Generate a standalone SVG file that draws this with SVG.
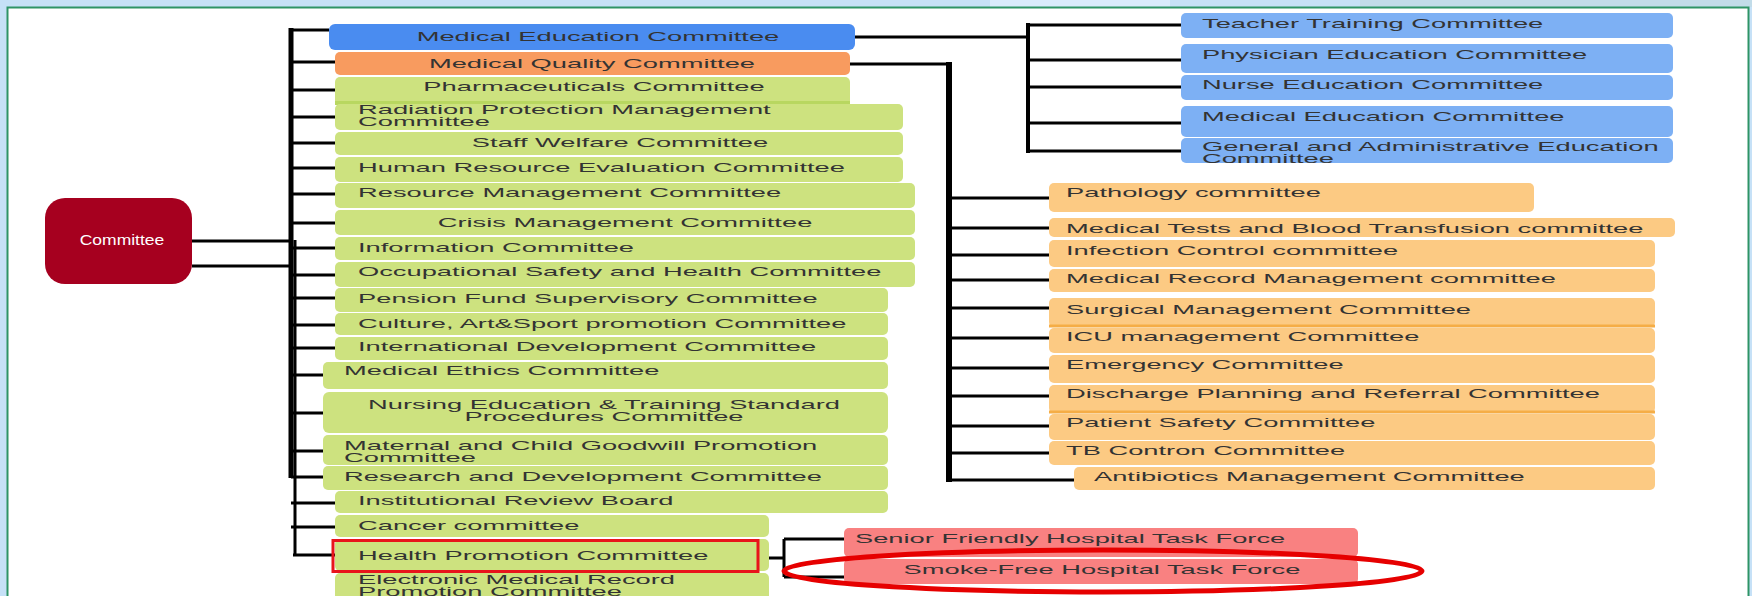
<svg xmlns="http://www.w3.org/2000/svg" width="1752" height="596" viewBox="0 0 1752 596">
<style>
.g{fill:#cde27f}
.b{fill:#7db0f4}
.o{fill:#fcca83}
.r{fill:#f98181}
.t{font-family:"Liberation Sans",Arial,sans-serif;font-size:13px;fill:#333}
.wt{font-family:"Liberation Sans",Arial,sans-serif;font-size:14px;fill:#fff}
.ln{stroke:#000;stroke-width:3;fill:none}
.sep{stroke:#f5ad46;stroke-width:3}
</style>
<rect x="0" y="0" width="1752" height="596" fill="#c6e1f7"/>
<rect x="990" y="0" width="180" height="7" fill="#d8ebfb"/>
<rect x="1360" y="0" width="392" height="7" fill="#c2dce9"/>
<rect x="7.5" y="7.5" width="1741" height="600" fill="#fff" stroke="#2e9466" stroke-width="2"/>

<g id="connectors">
<path class="ln" d="M192 241H291M192 266H291"/>
<path d="M291 28V478" stroke="#000" stroke-width="5"/>
<path class="ln" d="M295 240V556"/>
<path class="ln" d="M291 30H329M291 62H335M291 90H335M291 117H335M291 143H335M291 168H335M291 194H335M291 223H335M291 248H335M291 275H335M291 298H335M291 325H335M291 348H335M291 375H323M291 413H323M291 451H323M291 477H323M291 503H335M291 527H335M293 555H335"/>
<path class="ln" d="M855 37H1028M1028 25H1181M1028 60H1181M1028 87H1181M1028 123H1181M1028 151H1181"/>
<path d="M1028 23V153" stroke="#000" stroke-width="4"/>
<path class="ln" d="M850 64H952M949 198H1049M949 228H1049M949 255H1049M949 280H1049M949 308H1049M949 338H1049M949 368H1049M949 396H1049M949 426H1049M949 453H1049M949 480H1167"/>
<path d="M949 62V482" stroke="#000" stroke-width="6"/>
<path class="ln" d="M746 558H784M784 539V577M784 539H844M784 577H844"/>
</g>

<g id="committee">
<rect x="45" y="198" width="147" height="86" rx="20" fill="#a6001f"/>
<text class="wt" x="97.6" y="245.5" text-anchor="middle" transform="scale(1.25 1)">Committee</text>
</g>

<g id="n-medical-education">
<rect x="329" y="24" width="526" height="26" rx="6" fill="#4a8cf0"/>
<text class="t" x="284.76" y="41.5" text-anchor="middle" transform="scale(2.1 1)">Medical Education Committee</text>
</g>
<g id="n-medical-quality">
<rect x="335" y="52" width="515" height="23" rx="5" fill="#f89b5f"/>
<text class="t" x="281.90" y="68" text-anchor="middle" transform="scale(2.1 1)">Medical Quality Committee</text>
</g>
<g id="n-pharmaceuticals">
<rect class="g" x="335" y="77" width="515" height="29" rx="5"/>
<rect x="335" y="101" width="515" height="4" fill="#b8d760"/>
<text class="t" x="282.86" y="91.5" text-anchor="middle" transform="scale(2.1 1)">Pharmaceuticals Committee</text>
</g>
<g id="n-radiation">
<rect class="g" x="335" y="104" width="568" height="26" rx="5"/>
<text class="t" x="170.48" y="114.5" transform="scale(2.1 1)">Radiation Protection Management</text>
<text class="t" x="170.48" y="126.5" transform="scale(2.1 1)">Committee</text>
</g>
<g id="n-staff-welfare">
<rect class="g" x="335" y="132" width="568" height="23" rx="5"/>
<text class="t" x="295.24" y="147.5" text-anchor="middle" transform="scale(2.1 1)">Staff Welfare Committee</text>
</g>
<g id="n-hr-evaluation">
<rect class="g" x="335" y="157" width="568" height="25" rx="5"/>
<text class="t" x="170.48" y="172" transform="scale(2.1 1)">Human Resource Evaluation Committee</text>
</g>
<g id="n-resource-management">
<rect class="g" x="335" y="183" width="580" height="25" rx="5"/>
<text class="t" x="170.48" y="197" transform="scale(2.1 1)">Resource Management Committee</text>
</g>
<g id="n-crisis">
<rect class="g" x="335" y="210" width="580" height="25" rx="5"/>
<text class="t" x="297.62" y="227" text-anchor="middle" transform="scale(2.1 1)">Crisis Management Committee</text>
</g>
<g id="n-information">
<rect class="g" x="335" y="237" width="580" height="23" rx="5"/>
<text class="t" x="170.48" y="252" transform="scale(2.1 1)">Information Committee</text>
</g>
<g id="n-occupational">
<rect class="g" x="335" y="262" width="580" height="25" rx="5"/>
<text class="t" x="170.48" y="276.5" transform="scale(2.1 1)">Occupational Safety and Health Committee</text>
</g>
<g id="n-pension">
<rect class="g" x="335" y="288" width="553" height="24" rx="5"/>
<text class="t" x="170.48" y="303" transform="scale(2.1 1)">Pension Fund Supervisory Committee</text>
</g>
<g id="n-culture">
<rect class="g" x="335" y="313" width="553" height="22" rx="5"/>
<text class="t" x="170.48" y="328" transform="scale(2.1 1)">Culture, Art&amp;Sport promotion Committee</text>
</g>
<g id="n-international">
<rect class="g" x="335" y="337" width="553" height="23" rx="5"/>
<text class="t" x="170.48" y="351" transform="scale(2.1 1)">International Development Committee</text>
</g>
<g id="n-ethics">
<rect class="g" x="323" y="362" width="565" height="27" rx="5"/>
<text class="t" x="163.81" y="375.5" transform="scale(2.1 1)">Medical Ethics Committee</text>
</g>
<g id="n-nursing">
<rect class="g" x="323" y="392" width="565" height="41" rx="6"/>
<text class="t" x="287.62" y="409.5" text-anchor="middle" transform="scale(2.1 1)">Nursing Education &amp; Training Standard</text>
<text class="t" x="287.62" y="421.5" text-anchor="middle" transform="scale(2.1 1)">Procedures Committee</text>
</g>
<g id="n-maternal">
<rect class="g" x="323" y="435" width="565" height="30" rx="5"/>
<text class="t" x="163.81" y="450.5" transform="scale(2.1 1)">Maternal and Child Goodwill Promotion</text>
<text class="t" x="163.81" y="462" transform="scale(2.1 1)">Committee</text>
</g>
<g id="n-research">
<rect class="g" x="323" y="466" width="565" height="24" rx="5"/>
<text class="t" x="163.81" y="481" transform="scale(2.1 1)">Research and Development Committee</text>
</g>
<g id="n-irb">
<rect class="g" x="335" y="491" width="553" height="22" rx="5"/>
<text class="t" x="170.48" y="505.5" transform="scale(2.1 1)">Institutional Review Board</text>
</g>
<g id="n-cancer">
<rect class="g" x="335" y="515" width="434" height="22" rx="5"/>
<text class="t" x="170.48" y="530.5" transform="scale(2.1 1)">Cancer committee</text>
</g>
<g id="n-health-promotion">
<rect class="g" x="335" y="539" width="434" height="32" rx="5"/>
<rect x="333" y="540.5" width="425" height="31" fill="none" stroke="#e8141b" stroke-width="3"/>
<text class="t" x="170.48" y="560" transform="scale(2.1 1)">Health Promotion Committee</text>
</g>
<g id="n-emr">
<rect class="g" x="335" y="573" width="434" height="40" rx="5"/>
<text class="t" x="170.48" y="584" transform="scale(2.1 1)">Electronic Medical Record</text>
<text class="t" x="170.48" y="596" transform="scale(2.1 1)">Promotion Committee</text>
</g>

<g id="n-teacher-training">
<rect class="b" x="1181" y="13" width="492" height="25" rx="5"/>
<text class="t" x="572.38" y="28.5" transform="scale(2.1 1)">Teacher Training Committee</text>
</g>
<g id="n-physician-education">
<rect class="b" x="1181" y="44" width="492" height="29" rx="5"/>
<text class="t" x="572.38" y="59.5" transform="scale(2.1 1)">Physician Education Committee</text>
</g>
<g id="n-nurse-education">
<rect class="b" x="1181" y="75" width="492" height="25" rx="5"/>
<text class="t" x="572.38" y="89.5" transform="scale(2.1 1)">Nurse Education Committee</text>
</g>
<g id="n-medical-education-2">
<rect class="b" x="1181" y="106" width="492" height="31" rx="5"/>
<text class="t" x="572.38" y="121.5" transform="scale(2.1 1)">Medical Education Committee</text>
</g>
<g id="n-general-admin">
<rect class="b" x="1181" y="138" width="492" height="25" rx="5"/>
<text class="t" x="572.38" y="151.5" transform="scale(2.1 1)">General and Administrative Education</text>
<text class="t" x="572.38" y="163" transform="scale(2.1 1)">Committee</text>
</g>

<g id="n-pathology">
<rect class="o" x="1049" y="183" width="485" height="29" rx="5"/>
<text class="t" x="507.62" y="197.5" transform="scale(2.1 1)">Pathology committee</text>
</g>
<g id="n-medical-tests">
<rect class="o" x="1049" y="218" width="626" height="19" rx="5"/>
<text class="t" x="507.62" y="233" transform="scale(2.1 1)">Medical Tests and Blood Transfusion committee</text>
</g>
<g id="n-infection">
<rect class="o" x="1049" y="240" width="606" height="27" rx="5"/>
<text class="t" x="507.62" y="255.5" transform="scale(2.1 1)">Infection Control committee</text>
</g>
<g id="n-medical-record">
<rect class="o" x="1049" y="269" width="606" height="23" rx="5"/>
<text class="t" x="507.62" y="283.5" transform="scale(2.1 1)">Medical Record Management committee</text>
</g>
<g id="n-surgical">
<rect class="o" x="1049" y="298" width="606" height="29" rx="5"/>
<path class="sep" d="M1049 326H1655"/>
<text class="t" x="507.62" y="314.5" transform="scale(2.1 1)">Surgical Management Committee</text>
</g>
<g id="n-icu">
<rect class="o" x="1049" y="328" width="606" height="25" rx="5"/>
<text class="t" x="507.62" y="341.5" transform="scale(2.1 1)">ICU management Committee</text>
</g>
<g id="n-emergency">
<rect class="o" x="1049" y="355" width="606" height="28" rx="5"/>
<text class="t" x="507.62" y="369.5" transform="scale(2.1 1)">Emergency Committee</text>
</g>
<g id="n-discharge">
<rect class="o" x="1049" y="385" width="606" height="28" rx="5"/>
<path class="sep" d="M1049 412H1655"/>
<text class="t" x="507.62" y="398.5" transform="scale(2.1 1)">Discharge Planning and Referral Committee</text>
</g>
<g id="n-patient-safety">
<rect class="o" x="1049" y="414" width="606" height="26" rx="5"/>
<text class="t" x="507.62" y="427.5" transform="scale(2.1 1)">Patient Safety Committee</text>
</g>
<g id="n-tb">
<rect class="o" x="1049" y="441" width="606" height="24" rx="5"/>
<text class="t" x="507.62" y="455.5" transform="scale(2.1 1)">TB Contron Committee</text>
</g>
<g id="n-antibiotics">
<rect class="o" x="1074" y="467" width="581" height="23" rx="5"/>
<text class="t" x="520.95" y="481.5" transform="scale(2.1 1)">Antibiotics Management Committee</text>
</g>

<g id="n-senior-friendly">
<rect class="r" x="844" y="528" width="514" height="29" rx="5"/>
<text class="t" x="407.14" y="543.5" transform="scale(2.1 1)">Senior Friendly Hospital Task Force</text>
</g>
<g id="n-smoke-free">
<rect class="r" x="844" y="559" width="514" height="25" rx="5"/>
<text class="t" x="524.76" y="574.5" text-anchor="middle" transform="scale(2.1 1)">Smoke-Free Hospital Task Force</text>
</g>
<g id="highlight">
<ellipse cx="1103" cy="571" rx="319" ry="21" fill="none" stroke="#e60000" stroke-width="5"/>
</g>
</svg>
